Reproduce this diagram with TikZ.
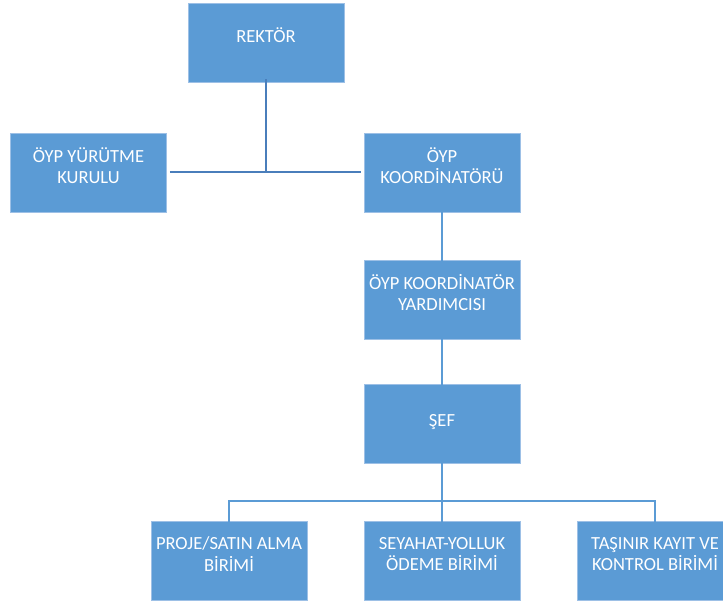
\documentclass[tikz,border=0pt]{standalone}
\usepackage{fontspec}
\setmainfont{Carlito}
\definecolor{boxblue}{HTML}{5B9BD5}
\definecolor{boxedge}{HTML}{9DC0E6}
\definecolor{topline}{HTML}{4A7EBB}
\definecolor{lowline}{HTML}{5B9BD5}
\begin{document}
\begin{tikzpicture}[x=1pt,y=-1pt,
  orgbox/.style={rectangle, fill=boxblue, draw=boxedge, line width=0.6pt,
    minimum width=156pt, minimum height=79pt, inner sep=0pt},
  orglabel/.style={text=white, align=center, inner sep=0pt,
    font=\fontsize{18.5}{21.5}\selectfont},
  topconn/.style={draw=topline, line width=2.8pt},
  lowconn/.style={draw=lowline, line width=2.8pt}]
\useasboundingbox (0,0) rectangle (723,606);
% boxes
\node[orgbox] (rek) at (266,42.5) {};
\node[orgbox] (yur) at (88.5,172.5) {};
\node[orgbox] (koo) at (442,172.5) {};
\node[orgbox] (yar) at (442,299.5) {};
\node[orgbox] (sef) at (442,423.5) {};
\node[orgbox] (pro) at (229,561) {};
\node[orgbox] (sey) at (442,561) {};
\node[orgbox] (tas) at (655,561) {};
% labels
\node[orglabel] (rekt) at ([yshift=7]rek.center) {REKTÖR};
\node[orglabel] (yurt) at ([yshift=7]yur.center) {ÖYP YÜRÜTME\\KURULU};
\node[orglabel] (koot) at ([yshift=7]koo.center) {ÖYP\\KOORDİNATÖRÜ};
\node[orglabel] (yart) at ([yshift=7]yar.center) {ÖYP KOORDİNATÖR\\YARDIMCISI};
\node[orglabel] (seft) at ([yshift=1.5]sef.center) {ŞEF};
\node[orglabel] (prot) at ([yshift=7]pro.center) {PROJE/SATIN ALMA\\BİRİMİ};
\node[orglabel] (seyt) at ([yshift=7]sey.center) {SEYAHAT-YOLLUK\\ÖDEME BİRİMİ};
\node[orglabel] (tast) at ([yshift=7]tas.center) {TAŞINIR KAYIT VE\\KONTROL BİRİMİ};
% connectors
\coordinate (jtop) at (266,172);
\coordinate (jlow) at (442,501);
\draw[topconn] ([yshift=3]rek.south) -- (jtop);
\draw[topconn] ([xshift=3]yur.east |- jtop) -- ([xshift=-3]koo.west |- jtop);
\draw[lowconn] ([yshift=3]koo.south) -- ([yshift=-3]yar.north);
\draw[lowconn] ([yshift=3]yar.south) -- ([yshift=-3]sef.north);
\draw[lowconn] ([yshift=3]sef.south) -- (jlow);
\draw[lowconn, line cap=rect] ([yshift=-3]pro.north) -- (pro.north |- jlow) -- (tas.north |- jlow) -- ([yshift=-3]tas.north);
\draw[lowconn] (jlow) -- ([yshift=-3]sey.north);
\end{tikzpicture}
\end{document}
